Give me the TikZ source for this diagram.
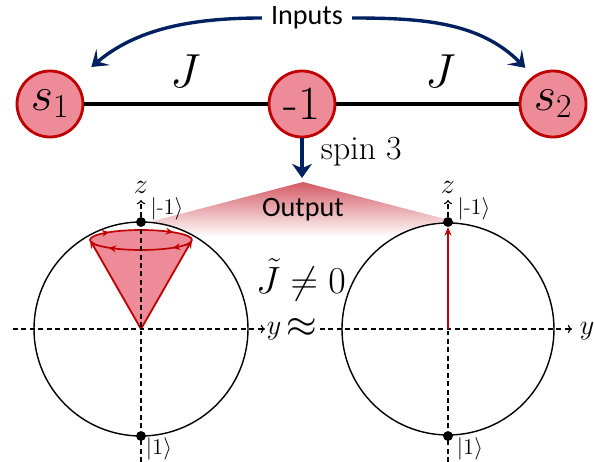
\RequirePackage{fix-cm}
\documentclass[tikz,border=0pt]{standalone}
\usepackage{amsmath,amssymb}
\usepackage{fontspec}
\newfontfamily\labelsans{Carlito}
\usepackage{xcolor}
\usetikzlibrary{arrows.meta, positioning, decorations.markings}

\definecolor{spinfill}{RGB}{237,139,153}
\definecolor{spinred}{RGB}{192,0,0}
\definecolor{inputblue}{RGB}{0,32,96}
\definecolor{outfade}{RGB}{212,90,100}

\newcommand{\bigsize}{\fontsize{34}{34}\selectfont}

\begin{document}
\begin{tikzpicture}[
  x=0.025cm, y=0.025cm,
  spin/.style={circle, draw=spinred, fill=spinfill, line width=2pt, minimum size=1.65cm, inner sep=0pt, font=\bigsize},
  bond/.style={line width=2.2pt},
  feed/.style={draw=inputblue, line width=2.4pt, -{Stealth[length=11pt, width=15pt, inset=5pt]}},
  word/.style={font=\labelsans\fontsize{20}{20}\selectfont},
  axis/.style={dash pattern=on 3.5pt off 2.5pt, line width=0.8pt, -{To[length=3pt, width=6pt]}},
  sphere/.style={draw, fill=white, line width=1pt},
  dot/.style={circle, fill=black, inner sep=0pt, minimum size=7pt},
  ket/.style={font=\fontsize{16}{16}\selectfont},
  axlbl/.style={font=\fontsize{20}{20}\selectfont},
  vec/.style={draw=spinred, line width=1.3pt, -{Stealth[length=6pt, width=5pt]}},
  flow/.style={postaction={decorate}, decoration={markings,
      mark=at position 0.1 with {\arrow{Stealth[length=5pt, width=5pt]}},
      mark=at position 0.4 with {\arrow{Stealth[length=5pt, width=5pt]}},
      mark=at position 0.6 with {\arrow{Stealth[length=5pt, width=5pt]}},
      mark=at position 0.9 with {\arrow{Stealth[length=5pt, width=5pt]}}}},
]
\useasboundingbox (0,0) rectangle (594,462);

% chain of spins
\node[spin] (s1) at (50,358) {$s_1$};
\node[spin] (mid) at (302,358) {-1};
\node[spin] (s2) at (553,358) {$s_2$};
\draw[bond] (s1) -- node[pos=0.55, yshift=23pt, font=\bigsize] (j1) {$J$} (mid);
\draw[bond] (mid) -- node[pos=0.57, yshift=23pt, font=\bigsize] (j2) {$J$} (s2);

\node[word] (inputs) at (307,444) {Inputs};
\draw[feed, shorten <=3pt, shorten >=15pt] (inputs) to[out=180, in=40] (s1.43);
\draw[feed, shorten <=3pt, shorten >=8pt] (inputs) to[out=0, in=135] (s2.125);

\coordinate (spinend) at (302,284);
\draw[draw=inputblue, line width=2.6pt, -{Stealth[length=10pt, width=14pt, inset=3pt]}] (mid) -- (spinend);
\node[font=\fontsize{24}{24}\selectfont, anchor=base west] (spinlbl) at (316,302) {spin 3};

% output fan
\shade[top color=outfade, bottom color=white] (303,280) -- (92,225) -- (514,225) -- cycle;
\node[word] (output) at (303,252) {Output};

% left sphere
\path[sphere] (141,133) circle[radius=107];
\fill[spinfill] (141,133) -- (90,222) -- (192,222) -- cycle;
\fill[spinfill] (141,222) ellipse[x radius=51, y radius=10];
\draw[vec] (141,133) -- (90,222);
\draw[vec] (141,133) -- (192,222);
\draw[spinred, line width=1.2pt, flow] (192,222) arc[start angle=0, end angle=-360, x radius=51, y radius=10];
\draw[axis] (13,133) -- (265,133);
\draw[axis] (141,0) -- (141,262);
\node[dot] (ltop) at (141,240) {};
\node[dot] (lbot) at (141,26) {};
\node[axlbl] (lz) at (141,275) {$z$};
\node[axlbl] (ly) at (274,131) {$y$};
\node[ket] (lup) at (167,253) {$|$-$1\rangle$};
\node[ket] (ldown) at (159,13) {$|1\rangle$};

\node[font=\fontsize{27}{27}\selectfont] (jt) at (301,182) {$\tilde{J}\neq 0$};
\node[font=\fontsize{28}{28}\selectfont] (approx) at (302,134) {$\approx$};

% right sphere
\path[sphere] (448,133) circle[radius=106];
\draw[axis] (320,133) -- (572,133);
\draw[axis] (448,0) -- (448,262);
\node[dot] (rtop) at (448,240) {};
\node[dot] (rbot) at (448,26) {};
\draw[vec] (448,133) -- (rtop);
\node[axlbl] (rz) at (448,275) {$z$};
\node[axlbl] (ry) at (587,131) {$y$};
\node[ket] (rup) at (474,253) {$|$-$1\rangle$};
\node[ket] (rdown) at (470,13) {$|1\rangle$};
\end{tikzpicture}
\end{document}
